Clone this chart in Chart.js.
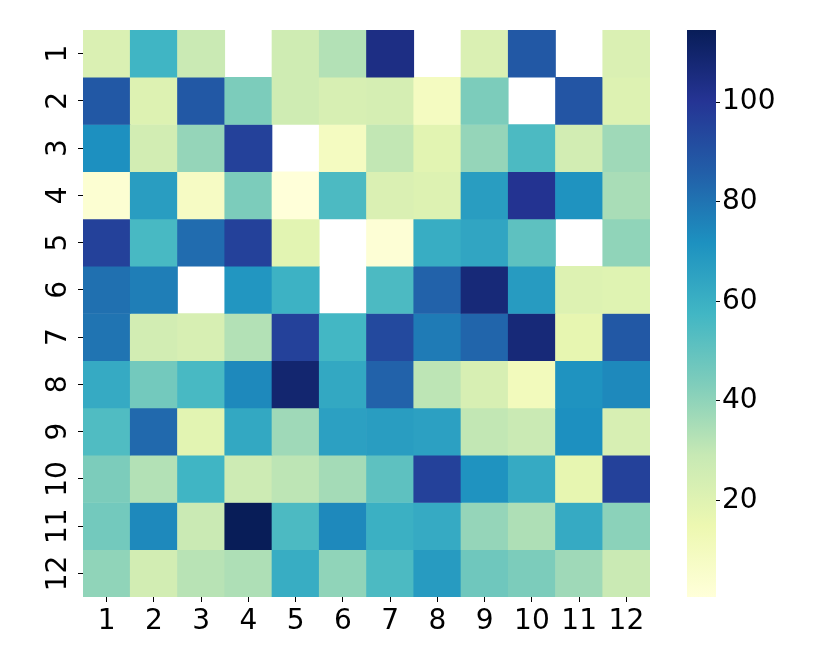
<!DOCTYPE html>
<html>
<head>
<meta charset="utf-8">
<script src="https://cdn.jsdelivr.net/npm/chart.js@4.4.1/dist/chart.umd.min.js"></script>
<style>
    html, body { margin: 0; padding: 0; background: #fff; }
    #wrap { position: relative; width: 830px; height: 664px; }
    #heatCanvas { position: absolute; left: 0; top: 0; }
    #barCanvas { position: absolute; left: 670px; top: 0; }
</style>
</head>
<body>
<div id="wrap">
    <canvas id="heatCanvas" width="670" height="664"></canvas>
    <canvas id="barCanvas" width="160" height="664"></canvas>
</div>
<script>
// column / row labels
const colLabels = ['1', '2', '3', '4', '5', '6', '7', '8', '9', '10', '11', '12'];
const rowLabels = ['1', '2', '3', '4', '5', '6', '7', '8', '9', '10', '11', '12'];

// cell values, one array per row (null = empty cell)
const row1  = [22, 58, 28, null, 26, 33, 104, null, 22, 88, null, 22];
const row2  = [88, 21, 88, 44, 26, 23, 24, 9, 44, null, 89, 21];
const row3  = [72, 25, 39, 96, null, 9, 30, 19, 39, 55, 25, 37];
const row4  = [3, 67, 8, 44, 0.6, 55, 22, 21, 67, 101, 71, 35];
const row5  = [96, 56, 82, 96, 19, null, 2, 61, 64, 51, null, 40];
const row6  = [81, 77, null, 70, 59, null, 55, 85, 107, 68, 21, 20];
const row7  = [80, 25, 23, 33, 96, 57, 93, 78, 84, 107, 17, 88];
const row8  = [62, 46, 56, 74, 109, 63, 85, 31, 23, 11, 71, 74];
const row9  = [54, 83, 19, 63, 37, 66, 67, 66, 30, 28, 72, 23];
const row10 = [44, 33, 58, 27, 31, 36, 51, 96, 71, 62, 17, 96];
const row11 = [46, 74, 28, 114.5, 55, 74, 60, 62, 39, 34, 62, 41];
const row12 = [40, 25, 32, 34, 61, 40, 55, 68, 47, 44, 37, 28];
const rows = [row1, row2, row3, row4, row5, row6, row7, row8, row9, row10, row11, row12];

// colorbar ticks
const barTicks = [20, 40, 60, 80, 100];

// YlGnBu stops
const palette = ['#ffffd9', '#edf8b1', '#c7e9b4', '#7fcdbb', '#41b6c4', '#1d91c0', '#225ea8', '#253494', '#081d58'];

const allValues = rows.flat().filter(v => v !== null);
const vMin = Math.min(...allValues);
const vMax = Math.max(...allValues);

function hexToRgb(h) {
    return [parseInt(h.substr(1, 2), 16), parseInt(h.substr(3, 2), 16), parseInt(h.substr(5, 2), 16)];
}
const paletteRgb = palette.map(hexToRgb);

function colorFor(v) {
    let t = (v - vMin) / (vMax - vMin);
    t = Math.max(0, Math.min(1, t));
    const pos = t * (paletteRgb.length - 1);
    const i = Math.min(Math.floor(pos), paletteRgb.length - 2);
    const f = pos - i;
    const a = paletteRgb[i], b = paletteRgb[i + 1];
    const c = a.map((x, k) => Math.round(x + (b[k] - x) * f));
    return `rgb(${c[0]},${c[1]},${c[2]})`;
}

const tickFont = { family: 'DejaVu Sans', size: 28 };

// one floating-bar dataset per row
const datasets = rows.map((vals, r) => ({
    data: vals.map(v => v === null ? null : [r + 0.5, r + 1.5]),
    backgroundColor: vals.map(v => v === null ? 'rgba(0,0,0,0)' : colorFor(v)),
    borderWidth: 0,
    grouped: false,
    barPercentage: 1,
    categoryPercentage: 1
}));

new Chart(document.getElementById('heatCanvas'), {
    type: 'bar',
    data: { labels: colLabels, datasets: datasets },
    options: {
        responsive: false,
        animation: false,
        devicePixelRatio: 1,
        layout: { padding: { top: 30, right: 20, left: 0, bottom: 0 } },
        plugins: { legend: { display: false }, tooltip: { enabled: false } },
        scales: {
            x: {
                grid: { display: true, drawOnChartArea: false, drawTicks: true, tickLength: 5, color: '#000', offset: false },
                border: { display: false },
                ticks: { font: tickFont, color: '#000', padding: 3, maxRotation: 0 },
                afterFit: scale => { scale.height = 67; }
            },
            y: {
                reverse: true,
                min: 0.5,
                max: 12.5,
                grid: { display: true, drawOnChartArea: false, drawTicks: true, tickLength: 5, color: '#000' },
                border: { display: false },
                afterBuildTicks: scale => { scale.ticks = rowLabels.map((l, i) => ({ value: i + 1 })); },
                ticks: {
                    font: tickFont,
                    color: '#000',
                    padding: 1,
                    minRotation: 90,
                    maxRotation: 90,
                    crossAlign: 'center',
                    callback: (value) => rowLabels[value - 1]
                },
                afterFit: scale => { scale.width = 83; }
            }
        }
    }
});

// colorbar: one floating bar filled with the palette gradient
new Chart(document.getElementById('barCanvas'), {
    type: 'bar',
    data: {
        labels: [''],
        datasets: [{
            data: [[vMin, vMax]],
            borderWidth: 0,
            barPercentage: 1,
            categoryPercentage: 1,
            backgroundColor: function(context) {
                const area = context.chart.chartArea;
                if (!area) return palette[4];
                const g = context.chart.ctx.createLinearGradient(0, area.bottom, 0, area.top);
                palette.forEach((c, i) => g.addColorStop(i / (palette.length - 1), c));
                return g;
            }
        }]
    },
    options: {
        responsive: false,
        animation: false,
        devicePixelRatio: 1,
        layout: { padding: { top: 30, left: 17, right: 0, bottom: 67 } },
        plugins: { legend: { display: false }, tooltip: { enabled: false } },
        scales: {
            x: { display: false },
            y: {
                position: 'right',
                min: vMin,
                max: vMax,
                grid: { display: true, drawOnChartArea: false, drawTicks: true, tickLength: 4, color: '#000' },
                border: { display: false },
                afterBuildTicks: scale => { scale.ticks = barTicks.map(v => ({ value: v })); },
                ticks: { font: tickFont, color: '#000', padding: 2 },
                afterFit: scale => { scale.width = 114; }
            }
        }
    }
});
</script>
</body>
</html>
